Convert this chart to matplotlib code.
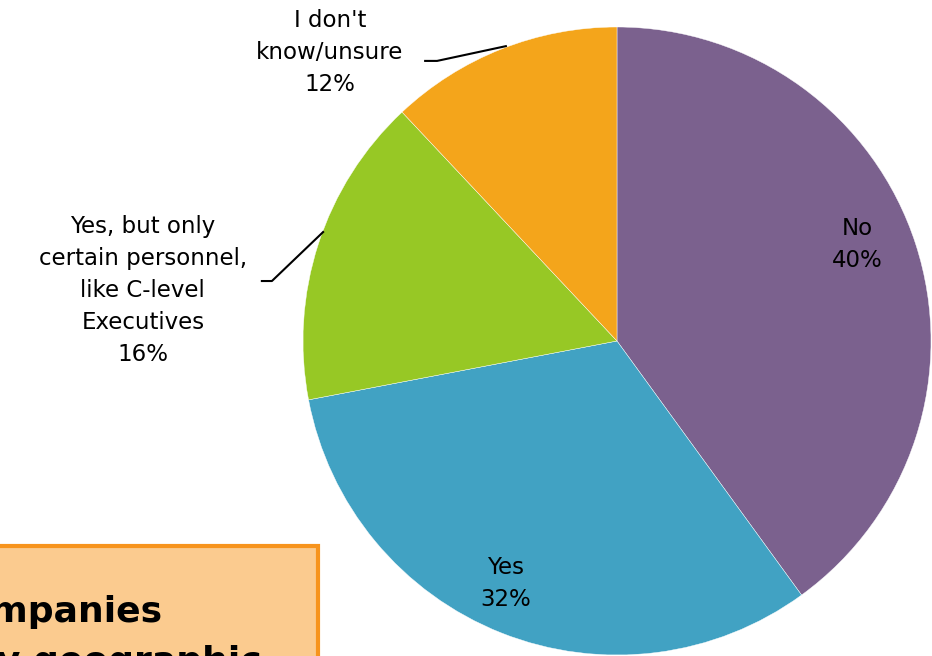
import matplotlib.pyplot as plt
from matplotlib.patches import Rectangle

labels = ["No", "Yes", "Yes, but only\ncertain personnel,\nlike C-level\nExecutives", "I don't\nknow/unsure"]
shares = [40, 32, 16, 12]
colors = ["#7B618E", "#41A2C3", "#97C825", "#F4A51B"]


def main():
    fig = plt.figure(figsize=(9.32, 6.56), dpi=100)

    # pie axes: square box, radius 314 px, centre at (617, 341) px
    ax = fig.add_axes([303 / 932, 1 / 656, 628 / 932, 628 / 656])
    ax.pie(shares, colors=colors, startangle=90, counterclock=False,
           wedgeprops=dict(edgecolor="white", linewidth=0.3))
    ax.set_xlim(-1, 1)
    ax.set_ylim(-1, 1)
    ax.set_aspect("equal")
    ax.axis("off")

    font = dict(fontsize=16.5, color="black", ha="center", va="center",
                linespacing=1.5, clip_on=False, family="DejaVu Sans")
    txt = [f"{l}\n{v}%" for l, v in zip(labels, shares)]

    ax.text(0.764, 0.306, txt[0], **font)
    ax.text(-0.354, -0.771, txt[1], **font)
    ax.text(-1.51, 0.162, txt[2], **font)
    ax.text(-0.914, 0.920, txt[3], **font)

    # leader lines for the two outside labels
    ax.plot([-1.131, -1.099, -0.936], [0.191, 0.191, 0.347],
            color="black", lw=1.5, clip_on=False)
    ax.plot([-0.611, -0.573, -0.354], [0.892, 0.892, 0.939],
            color="black", lw=1.5, clip_on=False)

    # callout box in the lower left corner, running off the page
    fig.patches.append(Rectangle((-0.05, -0.1), 0.05 + 318 / 932, 0.1 + 110 / 656,
                                 transform=fig.transFigure, facecolor="#FBCB8F",
                                 edgecolor="#F7941D", linewidth=3, zorder=0))
    fig.text(162 / 932, 1 - 612 / 656, "Companies", fontsize=26, fontweight="bold",
             ha="right", va="center", family="DejaVu Sans")
    fig.text(262 / 932, 1 - 662 / 656, "by geographic", fontsize=26, fontweight="bold",
             ha="right", va="center", family="DejaVu Sans")

    plt.savefig("out.png", dpi=100)


if __name__ == "__main__":
    main()
